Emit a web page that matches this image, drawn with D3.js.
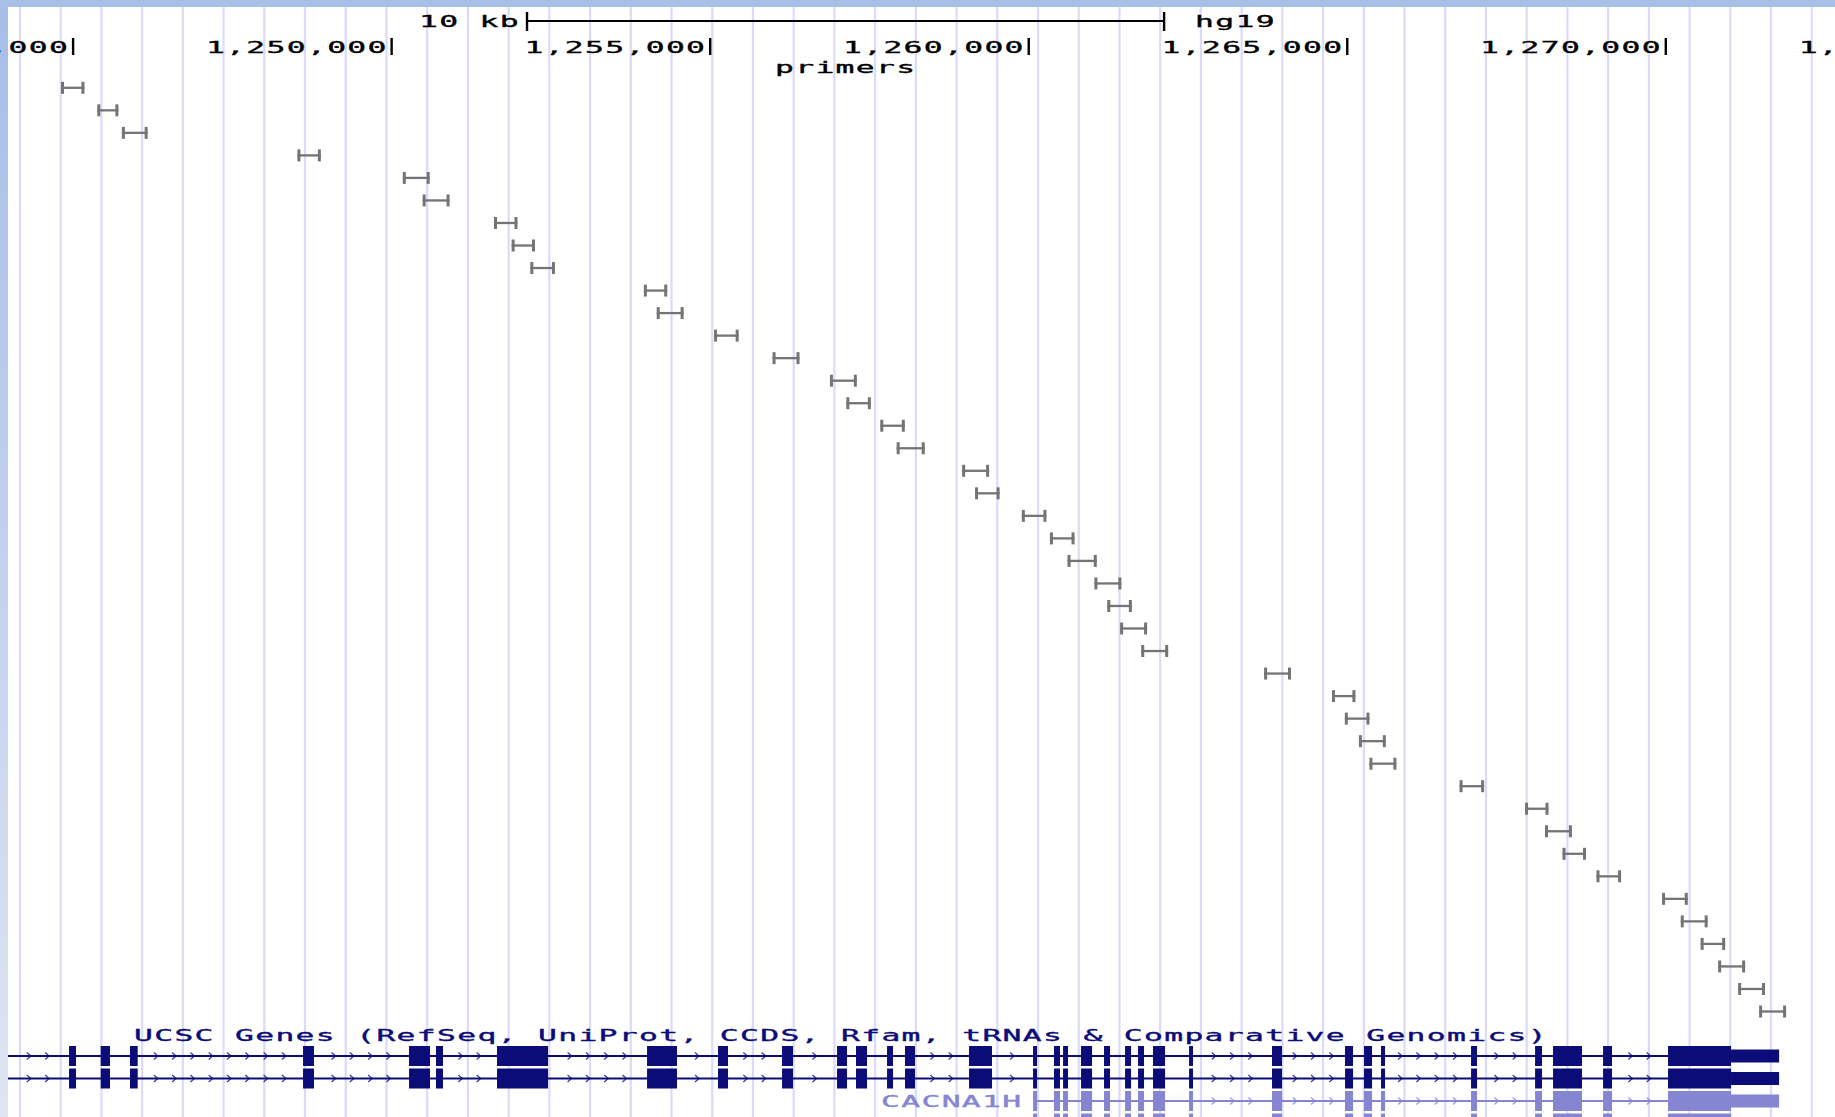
<!DOCTYPE html>
<html><head><meta charset="utf-8">
<script src="https://cdn.jsdelivr.net/npm/d3@7"></script>
<style>html,body{margin:0;padding:0;background:#fff;overflow:hidden}</style>
</head><body><svg id="c" width="1835" height="1117"></svg>
<script>
// ---------- data ----------
const tickValues = [1245000,1250000,1255000,1260000,1265000,1270000,1275000];
const primerStarts = [1244810,1245380,1245766,1248521,1250175,1250487,1251607,1251883,1252177,1253959,1254161,1255061,1255979,1256880,1257137,1257670,1257927,1258955,1259158,1259892,1260333,1260609,1261031,1261233,1261435,1261766,1263695,1264760,1264962,1265183,1265348,1266763,1267791,1268104,1268379,1268912,1269941,1270235,1270547,1270822,1271135,1271465];
const primerEnds = [1245178,1245711,1246170,1248889,1250597,1250909,1251975,1252250,1252563,1254326,1254583,1255447,1256402,1257302,1257522,1258055,1258368,1259378,1259543,1260278,1260719,1261068,1261454,1261619,1261858,1262189,1264117,1265128,1265348,1265605,1265771,1267148,1268159,1268526,1268747,1269298,1270345,1270657,1270932,1271245,1271557,1271888];
const exonStarts = [1244936,1245433,1245893,1248609,1250273,1250696,1251654,1254009,1255123,1256128,1256991,1257289,1257776,1258058,1259063,1260068,1260397,1260539,1260821,1261182,1261512,1261716,1261951,1262517,1263819,1264965,1265263,1265530,1266943,1267948,1268230,1269015,1270035];
const exonEnds = [1245046,1245579,1246014,1248781,1250602,1250806,1252455,1254479,1255280,1256300,1257148,1257462,1257870,1258215,1259424,1260130,1260491,1260617,1260994,1261276,1261606,1261810,1262140,1262579,1263976,1265091,1265389,1265593,1267037,1268057,1268685,1269156,1271778];
const thickEnd = 1271024;
const rowTxStart = [1243400,1243400,1260068,1260068];
const rowFirstExon = [0,0,15,15];
const rowNames = ["","","CACNA1H","CACNA1H"];
const rowColors = ["#0c0c78","#0c0c78","#8585d1","#8585d1"];
const scaleBarBp = [1252125,1262125];
const gridStart = 1244166, gridStep = 639.2;

// ---------- setup ----------
const W = 1835, H = 1117;
const svg = d3.select("#c");
const x = d3.scaleLinear().domain([1245000,1270000]).range([73.1,1665.8]);
const yPrimer = d3.scaleLinear().domain([0, primerStarts.length-1]).range([87.8, 1011.5]);
const yGene = d3.scaleLinear().domain([0,3]).range([1056,1123.5]);

const ADV = 20.2, SX = 1.9, FS = 16.5;
function monoText(g, str, x0, y, color){
  return g.append("text")
    .attr("transform", `translate(${x0},${y}) scale(${SX},1)`)
    .attr("x", [...str].map((c,i)=>(i*ADV/SX).toFixed(2)).join(" "))
    .attr("font-family","DejaVu Sans Mono")
    .attr("font-size",FS)
    .attr("fill",color)
    .attr("stroke",color).attr("stroke-width",0.35)
    .style("white-space","pre")
    .text(str);
}

const defs = svg.append("defs");
const lg = defs.append("linearGradient").attr("id","lb").attr("x1",0).attr("x2",0).attr("y1",0).attr("y2",1);
lg.append("stop").attr("offset","0%").attr("stop-color","#a6bee8");
lg.append("stop").attr("offset","100%").attr("stop-color","#dfe5f2");

// grid lines
const gridBp = d3.range(0,45).map(k=>gridStart + k*gridStep);
svg.append("g").selectAll("line").data(gridBp).join("line")
  .attr("x1",d=>x(d)).attr("x2",d=>x(d)).attr("y1",0).attr("y2",H)
  .attr("stroke","#dadafb").attr("stroke-width",2.2);

// primers
const pg = svg.append("g").attr("stroke","#747474");
primerStarts.forEach((s,i)=>{
  const e = primerEnds[i], y = yPrimer(i);
  pg.append("line").attr("x1",x(s)).attr("x2",x(e)).attr("y1",y).attr("y2",y).attr("stroke-width",2.3);
  pg.append("line").attr("x1",x(s)+1.5).attr("x2",x(s)+1.5).attr("y1",y-6).attr("y2",y+6).attr("stroke-width",3);
  pg.append("line").attr("x1",x(e)-1.5).attr("x2",x(e)-1.5).attr("y1",y-6).attr("y2",y+6).attr("stroke-width",3);
});

// genes
const gg = svg.append("g");
rowTxStart.forEach((tx,r)=>{
  const col = rowColors[r], y = yGene(r);
  const g = gg.append("g");
  const exs = d3.range(rowFirstExon[r], exonStarts.length);
  g.append("line").attr("x1",x(tx)).attr("x2",x(exonEnds[exonEnds.length-1]))
    .attr("y1",y).attr("y2",y).attr("stroke",col).attr("stroke-width",2);
  const segs = [];
  let prev = x(tx);
  exs.forEach(i=>{ segs.push([prev, x(exonStarts[i])]); prev = x(exonEnds[i]); });
  segs.forEach(([a,b])=>{
    a = Math.max(a, 8);
    const len = b - a;
    const n = Math.floor((len - 8) / 18.3);
    if (n < 1) return;
    const off = a + (len - (n-1)*18.3)/2;
    for (let k=0;k<n;k++){
      const cx = off + k*18.3;
      g.append("path").attr("d",`M${cx-2.5},${y-3.5}L${cx+1.5},${y}L${cx-2.5},${y+3.5}`)
        .attr("fill","none").attr("stroke",col).attr("stroke-width",1.3).attr("opacity",0.8);
    }
  });
  exs.forEach(i=>{
    const s = x(exonStarts[i]), e = x(exonEnds[i]);
    if (exonEnds[i] > thickEnd){
      const t = x(thickEnd);
      g.append("rect").attr("x",s).attr("y",y-10).attr("width",t-s).attr("height",20).attr("fill",col);
      g.append("rect").attr("x",t).attr("y",y-6.5).attr("width",e-t).attr("height",13).attr("fill",col);
    } else {
      const w = Math.max(e-s, 3);
      g.append("rect").attr("x",s).attr("y",y-10).attr("width",w).attr("height",20).attr("fill",col);
    }
  });
  if (rowNames[r]) monoText(g, rowNames[r], x(tx) - 152, y + 6, col);
});

// bands
svg.append("rect").attr("x",0).attr("y",0).attr("width",8).attr("height",H).attr("fill","url(#lb)");
svg.append("rect").attr("x",0).attr("y",0).attr("width",W).attr("height",7).attr("fill","#a8c0e8");

// header: scale bar
const hb = svg.append("g");
const sb0 = x(scaleBarBp[0]), sb1 = x(scaleBarBp[1]);
hb.append("line").attr("x1",sb0).attr("x2",sb1).attr("y1",21).attr("y2",21).attr("stroke","#000").attr("stroke-width",2);
[sb0,sb1].forEach(v=>hb.append("line").attr("x1",v).attr("x2",v).attr("y1",12).attr("y2",31).attr("stroke","#000").attr("stroke-width",2.4));
monoText(hb, "10 kb", sb0 - 108, 27, "#000");
monoText(hb, "hg19", sb1 + 31, 27, "#000");

// ticks
const fmt = d3.format(",");
tickValues.forEach(t=>{
  const tx = x(t);
  hb.append("line").attr("x1",tx).attr("x2",tx).attr("y1",38).attr("y2",55).attr("stroke","#000").attr("stroke-width",2.4);
  monoText(hb, fmt(t), tx - 185.7, 53, "#000");
});
monoText(hb, "primers", 775, 73, "#000");

// gene track label
monoText(svg, "UCSC Genes (RefSeq, UniProt, CCDS, Rfam, tRNAs & Comparative Genomics)", 134, 1041, "#0c0c78");
</script></body></html>
